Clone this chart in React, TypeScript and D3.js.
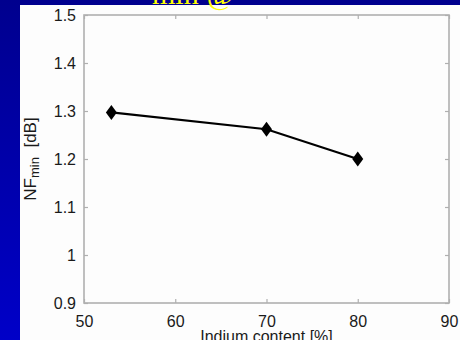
import * as d3 from 'd3';
import { useRef, useEffect } from 'react';

// indium content (%) and measured minimum noise figure (dB)
const indium = [53, 70, 80];
const nfMin = [1.297, 1.262, 1.2];
const xTicks = [50, 60, 70, 80, 90];
const yTicks = [0.9, 1, 1.1, 1.2, 1.3, 1.4, 1.5];

const W = 460;
const H = 340;

const App = () => {
  const ref = useRef<SVGSVGElement>(null);

  useEffect(() => {
    if (!ref.current) return;
    const svg = d3.select(ref.current);
    svg.selectAll('*').remove();

    const margin = { top: 15, right: 11, bottom: 37, left: 84 };
    const x = d3.scaleLinear().domain([50, 90]).range([margin.left, W - margin.right]);
    const y = d3.scaleLinear().domain([0.9, 1.5]).range([H - margin.bottom, margin.top]);

    // slide background
    const defs = svg.append('defs');
    const grad = defs.append('linearGradient').attr('id', 'slideBlue')
      .attr('x1', 0).attr('y1', 0).attr('x2', 0).attr('y2', 1);
    grad.append('stop').attr('offset', '0%').attr('stop-color', '#00008e');
    grad.append('stop').attr('offset', '100%').attr('stop-color', '#0000c8');
    svg.append('rect').attr('width', W).attr('height', H).attr('fill', 'url(#slideBlue)');
    svg.append('rect').attr('x', 20).attr('y', 5).attr('width', W - 20).attr('height', H - 5).attr('fill', '#fdfdfd');

    // cut-off slide title
    const title = svg.append('text').attr('x', 152).attr('y', 4)
      .attr('font-family', 'Liberation Serif, serif').attr('font-size', 30).attr('fill', '#ffff00');
    title.append('tspan').text('min');
    title.append('tspan').attr('font-size', 30).attr('dx', 8).text('@');

    const axisColor = '#b0b0b0';
    const style = (g: any) => {
      g.select('.domain').remove();
      g.selectAll('line').attr('stroke', axisColor).attr('stroke-width', 1.2);
      g.selectAll('text').attr('fill', '#1a1a1a').attr('font-size', 16)
        .attr('font-family', 'Liberation Sans, Arial, sans-serif');
    };

    svg.append('g').attr('transform', `translate(0,${y(0.9)})`)
      .call(d3.axisBottom(x).tickValues(xTicks).tickSizeInner(-4).tickSizeOuter(0).tickPadding(13))
      .call(style);
    svg.append('g').attr('transform', `translate(0,${y(1.5)})`)
      .call(d3.axisTop(x).tickValues(xTicks).tickSizeInner(-4).tickSizeOuter(0).tickFormat(() => ''))
      .call(style);
    svg.append('g').attr('transform', `translate(${x(50)},0)`)
      .call(d3.axisLeft(y).tickValues(yTicks).tickSizeInner(-4).tickSizeOuter(0).tickPadding(8)
        .tickFormat(d3.format('~g')))
      .call(style);
    svg.append('g').attr('transform', `translate(${x(90)},0)`)
      .call(d3.axisRight(y).tickValues(yTicks).tickSizeInner(-4).tickSizeOuter(0).tickFormat(() => ''))
      .call(style);

    // axes box
    svg.append('rect')
      .attr('x', x(50)).attr('y', y(1.5))
      .attr('width', x(90) - x(50)).attr('height', y(0.9) - y(1.5))
      .attr('fill', 'none').attr('stroke', axisColor).attr('stroke-width', 1.6);

    const data = indium.map((d, i) => ({ x: d, y: nfMin[i] }));
    const line = d3.line<{ x: number; y: number }>().x(d => x(d.x)).y(d => y(d.y));
    svg.append('path').datum(data).attr('d', line)
      .attr('fill', 'none').attr('stroke', '#000').attr('stroke-width', 2.2);

    svg.selectAll('path.marker').data(data).enter().append('path')
      .attr('class', 'marker')
      .attr('d', 'M0,-7.5L5.5,0L0,7.5L-5.5,0Z')
      .attr('transform', d => `translate(${x(d.x)},${y(d.y)})`)
      .attr('fill', '#000');

    // axis labels
    svg.append('text').attr('x', (x(50) + x(90)) / 2).attr('y', 342)
      .attr('text-anchor', 'middle').attr('font-size', 16).attr('fill', '#1a1a1a')
      .attr('font-family', 'Liberation Sans, Arial, sans-serif')
      .text('Indium content [%]');

    const yl = svg.append('text')
      .attr('transform', `translate(36,${(y(0.9) + y(1.5)) / 2}) rotate(-90)`)
      .attr('text-anchor', 'middle').attr('font-size', 17).attr('fill', '#1a1a1a')
      .attr('font-family', 'Liberation Sans, Arial, sans-serif');
    yl.append('tspan').text('NF');
    yl.append('tspan').attr('font-size', 13).attr('dy', 3).text('min');
    yl.append('tspan').attr('dy', -3).text('\u00a0\u00a0[dB]');
  }, []);

  return (
    <svg ref={ref} width={W} height={H} style={{ position: 'absolute', left: 0, top: 0 }} />
  );
};

export default App;
